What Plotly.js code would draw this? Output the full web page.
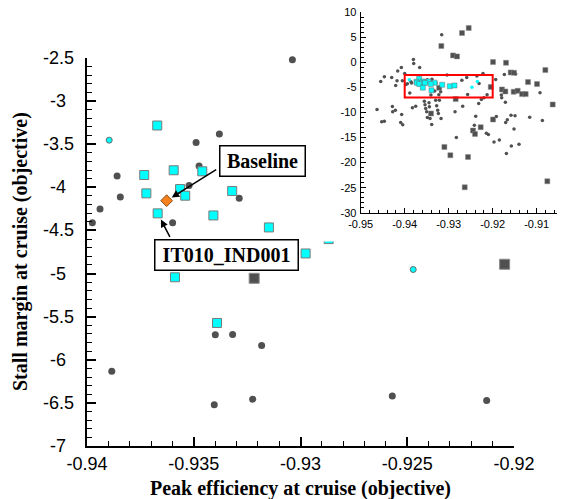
<!DOCTYPE html>
<html><head><meta charset="utf-8">
<script src="https://cdn.plot.ly/plotly-3.0.1.min.js"></script>
<style>html,body{margin:0;padding:0;background:#fff}#chart{width:561px;height:499px}</style>
</head><body><div id="chart"></div>
<script>
// ---------------- data ----------------
// grey circles (all designs)
const dotX = [-0.93038,-0.93380,-0.93489,-0.93475,-0.93522,-0.93859,-0.93844,-0.93939,-0.93975,-0.93287,
  -0.93599,-0.93884,-0.93399,-0.93318,-0.93182,-0.93404,-0.93224,-0.92570,-0.92128,
  -0.9259,-0.9236,-0.9270,-0.9231,
  -0.93159,-0.93803,-0.93795,-0.93659,-0.94076,-0.94159,-0.94000,-0.94462,-0.94295,-0.94545,
  -0.94174,-0.94053,-0.94205,-0.94629,-0.94523,-0.94462,-0.94280,-0.94212,-0.94273,-0.94068,
  -0.94091,-0.94045,-0.93826,-0.93750,-0.93538,-0.93447,-0.93523,-0.93439,-0.93500,-0.93485,
  -0.93386,-0.93424,-0.93295,-0.93212,-0.93273,-0.93250,-0.93235,-0.93174,-0.92856,-0.92682,
  -0.92826,-0.92386,-0.92417,-0.91917,-0.91583,-0.91492,-0.91159,-0.90871,-0.91667,-0.91705,
  -0.91515,-0.92144,-0.92098,-0.91970,-0.91848,-0.91576,-0.91402,-0.91689,-0.92220,-0.91932,
  -0.91735,-0.91477,-0.90924,-0.91803,-0.91795,-0.91712,-0.92258,-0.92197,-0.92318,-0.93553];
const dotY = [-2.52,-3.38,-3.48,-3.752,-3.98,-3.868,-4.113,-4.252,-4.411,-4.128,
  -4.411,-6.132,-5.709,-5.706,-5.834,-6.523,-6.457,-6.419,-6.473,
  -3.0,-2.73,-3.55,-4.2,
  5.53,0.6,-0.2,-1.0,-1.0,-1.73,-2.2,-2.87,-3.0,-3.8,
  -3.67,-3.67,-4.6,-9.4,-11.87,-11.73,-8.8,-9.53,-9.87,-10.4,
  -12.0,-12.47,-9.07,-8.73,-8.47,-8.07,-9.2,-8.87,-9.87,-11.0,
  -12.4,-11.2,-7.53,-7.53,-8.67,-9.53,-10.2,-11.2,-9.87,-8.73,
  -15.0,-10.73,-12.53,-10.8,-10.53,-10.67,-10.93,-11.6,-11.47,-12.0,
  -13.27,-14.13,-14.4,-15.87,-15.47,-16.67,-16.33,-18.2,-2.2,-3.4,
  -2.4,-2.33,-6.07,-6.53,-7.05,-7.93,-7.4,-7.05,-8.2,-7.73];
// grey squares
const sqX = [-0.93217,-0.92044,
  -0.92545,-0.92697,-0.93167,-0.92902,-0.92811,-0.91992,-0.91697,-0.91591,-0.91515,-0.90803,
  -0.91197,-0.90992,-0.91788,-0.91712,-0.91523,-0.91432,-0.91333,-0.91250,-0.90636,-0.91992,
  -0.92273,-0.92447,-0.92402,-0.93098,-0.92962,-0.92561,-0.92636,-0.90758,-0.92841,-0.93402];
const sqY = [-5.055,-4.892,
  6.87,5.87,3.27,1.4,1.2,0.07,-0.07,-2.0,-2.07,-1.53,
  -3.93,-4.33,-5.4,-5.8,-5.87,-5.67,-6.33,-6.33,-8.4,-11.4,
  -12.93,-13.6,-14.27,-16.87,-18.53,-18.87,-24.93,-23.73,-7.33,-10.2];
// cyan squares (selected designs)
const cyanSqX = [-0.93671,-0.93732,-0.93594,-0.93460,-0.93722,-0.93564,-0.93540,-0.93320,-0.93669,-0.93408,
  -0.93148,-0.92976,-0.92868,-0.93588,-0.93391];
const cyanSqY = [-3.283,-3.857,-3.802,-3.814,-4.070,-4.020,-4.097,-4.043,-4.302,-4.326,
  -4.465,-4.767,-4.60,-5.043,-5.573];
// cyan circles
const cyanDotX = [-0.93896,-0.92472,-0.92348];
const cyanDotY = [-3.453,-4.953,-3.8];
// baseline design
const baseX = [-0.93627];
const baseY = [-4.155];
// labelled design IT010_IND001 (index in cyan squares)
const labelIdx = 8;

// axes / ticks
const mainXRange = [-0.94, -0.92];
const mainYRange = [-7, -2.5];
const mainXTicks = [-0.94, -0.935, -0.93, -0.925, -0.92];
const mainXTickText = ['-0.94', '-0.935', '-0.93', '-0.925', '-0.92'];
const mainYTicks = [-2.5, -3, -3.5, -4, -4.5, -5, -5.5, -6, -6.5, -7];
const mainYTickText = ['-2.5', '-3', '-3.5', '-4', '-4.5', '-5', '-5.5', '-6', '-6.5', '-7'];
const insetXRange = [-0.95, -0.90545];
const insetYRange = [-30, 10];
const insetXTicks = [-0.95, -0.94, -0.93, -0.92, -0.91];
const insetXTickText = ['-0.95', '-0.94', '-0.93', '-0.92', '-0.91'];
const insetYTicks = [10, 5, 0, -5, -10, -15, -20, -25, -30];
const insetYTickText = ['10', '5', '0', '-5', '-10', '-15', '-20', '-25', '-30'];
const xTitle = 'Peak efficiency at cruise (objective)';
const yTitle = 'Stall margin at cruise (objective)';

// ---------------- layout helpers ----------------
const W = 561, H = 499;
const px = v => v / W, py = v => 1 - v / H;
const SANS = 'Liberation Sans, Arial, sans-serif';
const SERIF = 'Liberation Serif, Times New Roman, serif';
const GREY = '#505050';

function inMain(xs, ys) {
  const ox = [], oy = [];
  xs.forEach((x, i) => {
    const y = ys[i];
    if (x >= mainXRange[0] && x <= mainXRange[1] && y >= mainYRange[0] && y <= mainYRange[1]) { ox.push(x); oy.push(y); }
  });
  return [ox, oy];
}

const mDot = inMain(dotX, dotY), mSq = inMain(sqX, sqY), mCS = inMain(cyanSqX, cyanSqY), mCD = inMain(cyanDotX, cyanDotY);

const traces = [
  {type:'scatter', mode:'markers', x:mDot[0], y:mDot[1], xaxis:'x', yaxis:'y', cliponaxis:false,
   marker:{symbol:'circle', size:7, color:GREY}},
  {type:'scatter', mode:'markers', x:mSq[0], y:mSq[1], xaxis:'x', yaxis:'y', cliponaxis:false,
   marker:{symbol:'square', size:10, color:GREY, line:{color:'#8a8a8a', width:1}}},
  {type:'scatter', mode:'markers', x:mCD[0], y:mCD[1], xaxis:'x', yaxis:'y', cliponaxis:false,
   marker:{symbol:'circle', size:6, color:'#00ffff', line:{color:'#6a6a6a', width:1}}},
  {type:'scatter', mode:'markers', x:mCS[0], y:mCS[1], xaxis:'x', yaxis:'y', cliponaxis:false,
   marker:{symbol:'square', size:9, color:'#00ffff', line:{color:'#7a7a7a', width:1}}},
  {type:'scatter', mode:'markers', x:baseX, y:baseY, xaxis:'x', yaxis:'y', cliponaxis:false,
   marker:{symbol:'diamond', size:9, color:'#f5821f', line:{color:'#8a4a10', width:1}}},
  // cover frame of the inset (white background)
  {type:'scatter', mode:'markers', x:[], y:[], xaxis:'x2', yaxis:'y2', hoverinfo:'skip'},
  // inset
  {type:'scatter', mode:'markers', x:dotX, y:dotY, xaxis:'x3', yaxis:'y3',
   marker:{symbol:'circle', size:3.5, color:GREY}},
  {type:'scatter', mode:'markers', x:sqX, y:sqY, xaxis:'x3', yaxis:'y3',
   marker:{symbol:'square', size:5, color:GREY, line:{color:'#8a8a8a', width:0.5}}},
  {type:'scatter', mode:'markers', x:cyanDotX, y:cyanDotY, xaxis:'x3', yaxis:'y3',
   marker:{symbol:'circle', size:3.5, color:'#00ffff'}},
  {type:'scatter', mode:'markers', x:cyanSqX, y:cyanSqY, xaxis:'x3', yaxis:'y3',
   marker:{symbol:'square', size:5, color:'#00ffff', line:{color:'#6a6a6a', width:0.5}}}
];

const annotations = [];
mainYTicks.forEach((v, i) => annotations.push({
  xref:'paper', yref:'y', x:px(58), y:v, text:mainYTickText[i], showarrow:false,
  xanchor:'center', yanchor:'middle', font:{family:SANS, size:18, color:'#000'}
}));
annotations.push({xref:'paper', yref:'paper', x:px(300), y:py(488), text:'<b>'+xTitle+'</b>', showarrow:false,
  xanchor:'center', yanchor:'middle', borderpad:0, font:{family:SERIF, size:20, color:'#000'}});
annotations.push({xref:'paper', yref:'paper', x:px(21), y:py(252), text:'<b>'+yTitle+'</b>', showarrow:false,
  textangle:-90, xanchor:'center', yanchor:'middle', borderpad:0, font:{family:SERIF, size:20, color:'#000'}});
// Baseline label box and arrow
annotations.push({xref:'paper', yref:'paper', x:px(262.5), y:py(161), text:'<b>Baseline</b>', showarrow:false,
  xanchor:'center', yanchor:'middle', width:82, height:27, borderpad:1, borderwidth:1.5, bordercolor:'#000', bgcolor:'#fff',
  font:{family:SERIF, size:20, color:'#000'}});
annotations.push({xref:'x', yref:'y', x:baseX[0], y:baseY[0], text:'', showarrow:true, axref:'pixel', ayref:'pixel',
  ax:51, ay:-32, arrowhead:2, arrowsize:1, arrowwidth:1.5, arrowcolor:'#000', standoff:6});
// IT010_IND001 label box and arrow
annotations.push({xref:'paper', yref:'paper', x:px(226.5), y:py(255), text:'<b>IT010_IND001</b>', showarrow:false,
  xanchor:'center', yanchor:'middle', width:140, height:27, borderpad:1, borderwidth:1.5, bordercolor:'#000', bgcolor:'#fff',
  font:{family:SERIF, size:20, color:'#000'}});
annotations.push({xref:'x', yref:'y', x:cyanSqX[labelIdx], y:cyanSqY[labelIdx], text:'', showarrow:true, axref:'pixel', ayref:'pixel',
  ax:13, ay:25, arrowhead:2, arrowsize:1, arrowwidth:1.5, arrowcolor:'#000', standoff:7});

const layout = {
  width:W, height:H, margin:{l:0, r:0, t:0, b:0}, paper_bgcolor:'#fff', plot_bgcolor:'#fff', showlegend:false,
  font:{family:SANS, color:'#000'},
  xaxis:{domain:[px(87), px(514)], range:mainXRange, anchor:'y', showline:true, linecolor:'#000', linewidth:2,
    ticks:'inside', ticklen:9, tickwidth:2, tickcolor:'#000', tickmode:'array', tickvals:mainXTicks, ticktext:mainXTickText,
    tickfont:{family:SANS, size:18, color:'#000'}, ticklabelstandoff:0, showgrid:false, zeroline:false,
    minor:{tickmode:'linear', tick0:-0.94, dtick:0.001, ticks:'inside', ticklen:5, tickwidth:1, tickcolor:'#000', showgrid:false}},
  yaxis:{domain:[py(446), py(58)], range:mainYRange, anchor:'x', showline:true, linecolor:'#000', linewidth:2,
    ticks:'inside', ticklen:9, tickwidth:2, tickcolor:'#000', tickmode:'array', tickvals:mainYTicks, showticklabels:false,
    showgrid:false, zeroline:false,
    minor:{tickmode:'linear', tick0:-7, dtick:0.1, ticks:'inside', ticklen:5, tickwidth:1, tickcolor:'#000', showgrid:false}},
  xaxis2:{domain:[px(315), 1], range:[0,1], anchor:'y2', showline:false, showticklabels:false, ticks:'', showgrid:false, zeroline:false, fixedrange:true},
  yaxis2:{domain:[py(241.5), 1], range:[0,1], anchor:'x2', showline:false, showticklabels:false, ticks:'', showgrid:false, zeroline:false, fixedrange:true},
  xaxis3:{domain:[px(360.7), px(556.7)], range:insetXRange, anchor:'y3', showline:true, linecolor:'#000', linewidth:1,
    ticks:'inside', ticklen:5, tickwidth:1, tickcolor:'#000', tickmode:'array', tickvals:insetXTicks, ticktext:insetXTickText,
    tickfont:{family:SANS, size:11, color:'#000'}, ticklabelstandoff:1, showgrid:false, zeroline:false,
    minor:{tickmode:'linear', tick0:-0.95, dtick:0.002, ticks:'inside', ticklen:3, tickwidth:1, tickcolor:'#000', showgrid:false}},
  yaxis3:{domain:[py(212.7), py(12.3)], range:insetYRange, anchor:'x3', showline:true, linecolor:'#000', linewidth:1,
    ticks:'inside', ticklen:5, tickwidth:1, tickcolor:'#000', tickmode:'array', tickvals:insetYTicks, ticktext:insetYTickText,
    tickfont:{family:SANS, size:11, color:'#000'}, ticklabelstandoff:1, showgrid:false, zeroline:false,
    minor:{tickmode:'linear', tick0:-30, dtick:1, ticks:'inside', ticklen:3, tickwidth:1, tickcolor:'#000', showgrid:false}},
  shapes:[{type:'rect', xref:'x3', yref:'y3', x0:mainXRange[0], x1:mainXRange[1], y0:mainYRange[0], y1:mainYRange[1],
    line:{color:'#ff0000', width:2}, fillcolor:'rgba(0,0,0,0)', layer:'above'}],
  annotations:annotations
};

Plotly.newPlot('chart', traces, layout, {staticPlot:true, displayModeBar:false});
</script></body></html>
